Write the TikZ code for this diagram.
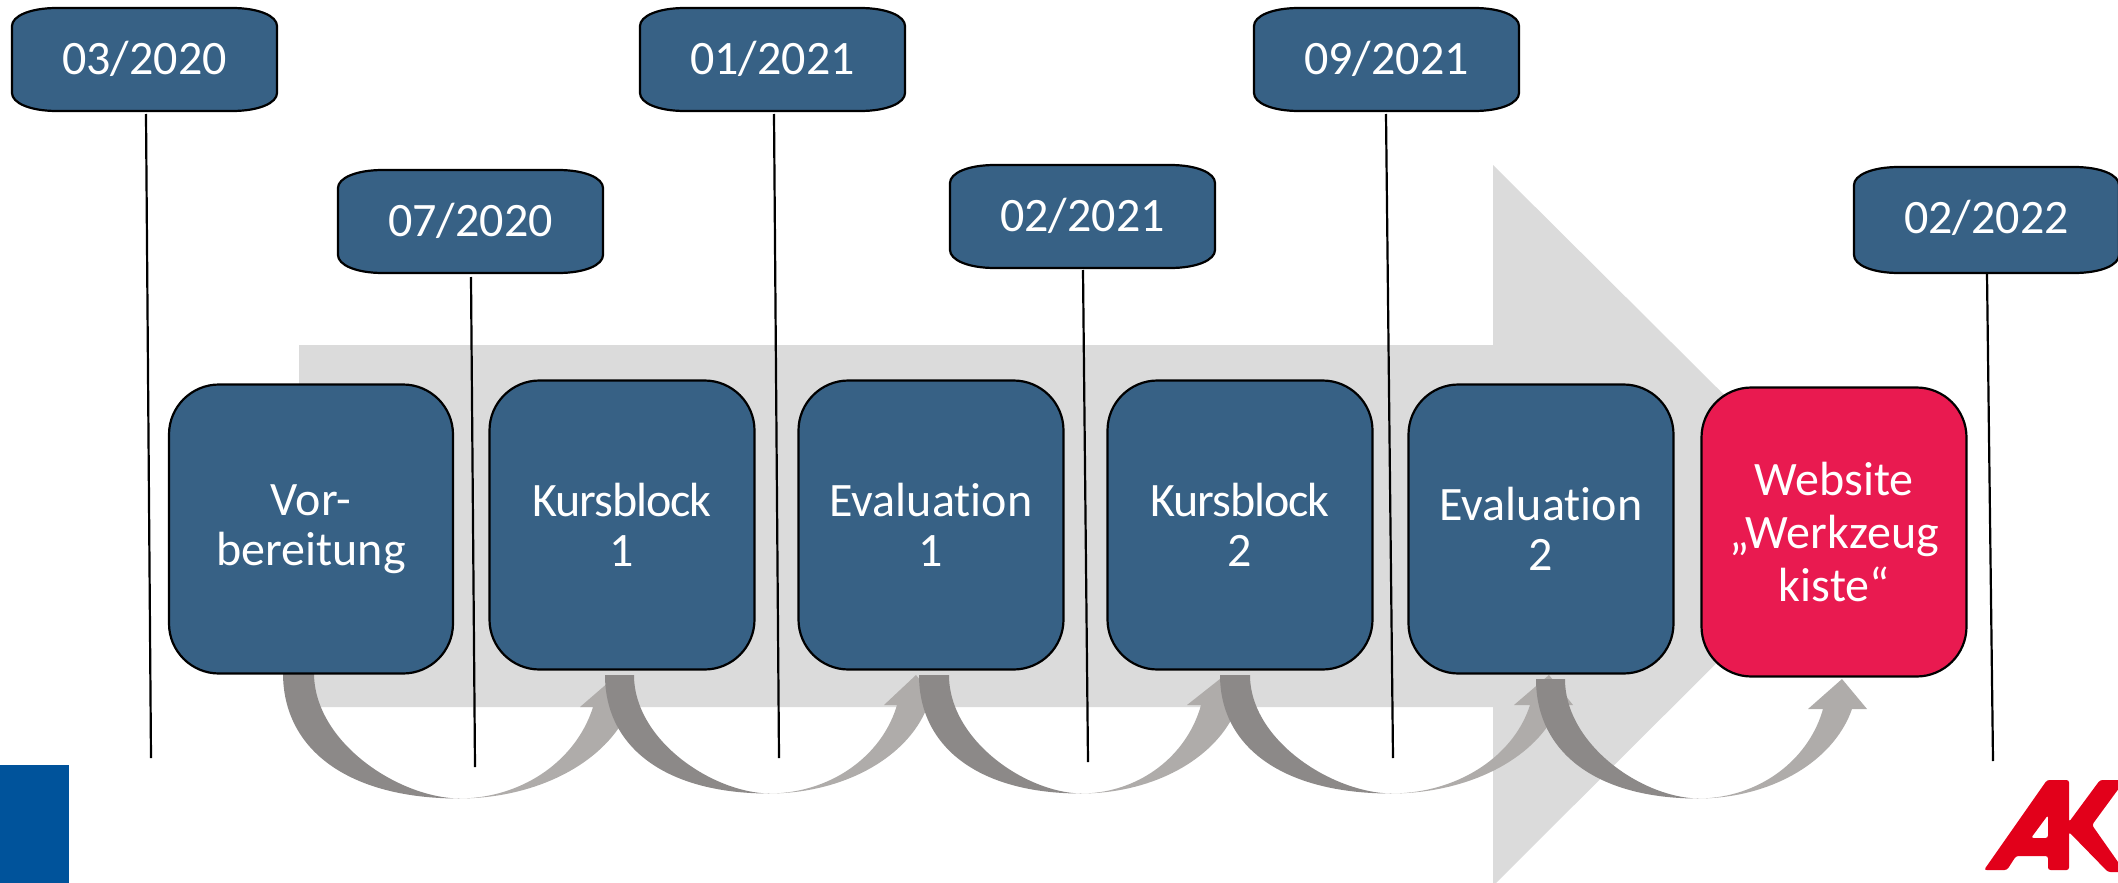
\documentclass[tikz,border=0pt]{standalone}
\usepackage{fontspec}
\setmainfont[Ligatures=NoCommon]{Carlito}
\newfontfamily\tightfont[Ligatures=NoCommon,LetterSpace=-2.5]{Carlito}
\definecolor{boxblue}{HTML}{376185}
\definecolor{boxred}{HTML}{E91A50}
\definecolor{bigarrow}{HTML}{DBDBDB}
\definecolor{arcdark}{HTML}{8C8988}
\definecolor{arclight}{HTML}{AFACAA}
\definecolor{logoblue}{HTML}{00539B}
\definecolor{logored}{HTML}{E2001A}
\tikzset{
  procbox/.style={draw=black,line width=2.2pt,fill=boxblue,rounded corners=50pt,text=white,inner sep=0pt,font=\fontsize{48}{50}\selectfont,align=center},
  stem/.style={draw=black,line width=2.2pt},
}
\newcommand{\datepath}[4]{%
  \draw[line width=2.2pt,fill=boxblue] (#1+45,#2) -- (#3-45,#2) .. controls (#3-18,#2) and (#3,#2+8) .. (#3,#2+18) -- (#3,#4-18) .. controls (#3,#4-8) and (#3-18,#4) .. (#3-45,#4) -- (#1+45,#4) .. controls (#1+18,#4) and (#1,#4-8) .. (#1,#4-18) -- (#1,#2+18) .. controls (#1,#2+8) and (#1+18,#2) .. (#1+45,#2) -- cycle;
}
\newcommand{\myarc}[9]{%
  \def\ARxa{#1}\def\ARya{#2}\def\ARw{#3}\def\ARxb{#4}\def\ARyb{#5}\def\ARtx{#6}\def\ARty{#7}\def\ARhl{#8}\def\ARhr{#9}\myarcb}
\newcommand{\myarcb}[3]{%
  \pgfmathsetmacro{\ARh}{\ARyb-\ARya+0.5}
  \pgfmathsetmacro{\ART}{acos((#3-\ARya)/\ARh)}
  \pgfmathsetmacro{\ARao}{(#2-\ARxb)/sin(\ART)}
  \pgfmathsetmacro{\ARai}{(#1-\ARxb)/sin(\ART)}
  \fill[arclight] plot[domain=0:\ART,samples=36] ({\ARxb+\ARao*sin(\x)},{\ARya+\ARh*cos(\x)})
    -- (\ARhr,#3) -- (\ARtx,\ARty) -- (\ARhl,#3)
    -- plot[domain=\ART:0,samples=36] ({\ARxb+\ARai*sin(\x)},{\ARya+\ARh*cos(\x)}) -- cycle;
  \fill[arcdark] (\ARxa,\ARya)
    .. controls (\ARxa,{\ARya+0.62*\ARh}) and ({\ARxb-0.62*(\ARxb-\ARxa)},\ARya+\ARh) .. (\ARxb,\ARya+\ARh)
    .. controls ({\ARxb-0.42*(\ARxb-\ARxa-\ARw)},\ARya+\ARh-1) and (\ARxa+\ARw,{\ARya+0.55*\ARh}) .. (\ARxa+\ARw,\ARya) -- cycle;
}
\begin{document}
\begin{tikzpicture}[x=1pt,y=-1pt]
\useasboundingbox (0,0) rectangle (2118,883);
\clip (0,0) rectangle (2118,883);
\fill[bigarrow] (299,345) -- (1493,345) -- (1493,165) -- (1855,525) -- (1493,886) -- (1493,707) -- (299,707) -- cycle;
\fill[logoblue] (0,765) rectangle (69,883);
\fill[logored,even odd rule,rounded corners=2.5pt] (1984,870) -- (2047,780) -- (2069,780) -- (2069,822) -- (2100,780) -- (2125,780) -- (2092,825) -- (2125,872) -- (2108,872) -- (2069,832) -- (2069,870) -- (2048,870) -- (2048,856) -- (2016,856) -- (2007,870) -- cycle
 (2031,838) -- (2048,838) -- (2048,815) -- cycle;
\myarc{283}{673}{31}{459}{798}{617}{675}{580}{630}{593}{630}{707}
\myarc{605}{675}{29}{769}{793}{916}{675}{884}{940}{897}{928}{705}
\myarc{919}{675}{30}{1081}{793}{1225}{675}{1187}{1240}{1201}{1238}{705}
\myarc{1220}{675}{30}{1391}{793}{1549}{675}{1514}{1573}{1530}{1559}{705}
\myarc{1536}{679}{29}{1698}{798}{1842}{679}{1808}{1867}{1823}{1852}{709}
\node[procbox,minimum width=284pt,minimum height=289pt] (p1) at (311,529) {Vor-\\bereitung};
\node[procbox,minimum width=265pt,minimum height=289pt] (p2) at (622,525) {\tightfont Kursblock\\1};
\node[procbox,minimum width=265pt,minimum height=289pt] (p3) at (931,525) {Evaluation\\1};
\node[procbox,minimum width=265pt,minimum height=289pt] (p4) at (1240,525) {\tightfont Kursblock\\2};
\node[procbox,minimum width=265pt,minimum height=289pt] (p5) at (1541,529) {Evaluation\\2};
\node[procbox,fill=boxred,minimum width=265pt,minimum height=289pt,font=\fontsize{48}{53}\selectfont] (p6) at (1834,532) {Website\\„Werkzeug\\kiste“};
\foreach \n/\xl/\yt/\hh/\txt in {d1/12/8/103/03\slash 2020,d2/338/170/103/07\slash 2020,d3/640/8/103/01\slash 2021,d4/950/165/103/02\slash 2021,d5/1254/8/103/09\slash 2021,d6/1854/167/106/02\slash 2022}{
  \datepath{\xl}{\yt}{\xl+265}{\yt+\hh}
  \node[text=white,inner sep=0pt,font=\fontsize{48}{50}\selectfont] (\n) at (\xl+132.5,\yt+51) {\txt};
}
\coordinate (e1) at (151,758);
\coordinate (e2) at (475,767);
\coordinate (e3) at (779,758);
\coordinate (e4) at (1088,762);
\coordinate (e5) at (1393,758);
\coordinate (e6) at (1993,761);
\draw[stem] (146,114) -- (e1);
\draw[stem] (471,277) -- (e2);
\draw[stem] (774,114) -- (e3);
\draw[stem] (1083,270) -- (e4);
\draw[stem] (1386,114) -- (e5);
\draw[stem] (1987,274) -- (e6);
\end{tikzpicture}
\end{document}
